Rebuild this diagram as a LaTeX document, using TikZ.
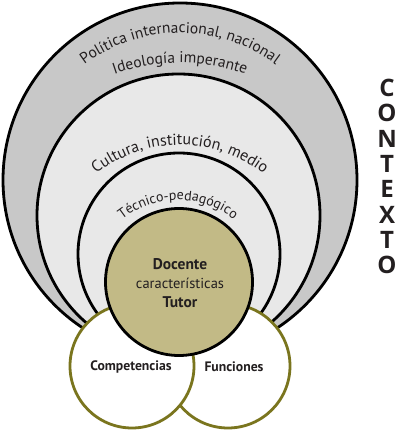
\documentclass[tikz,border=0pt]{standalone}
\usepackage{fontspec}
\setmainfont{PT Sans}
\newfontfamily\ctxfont{Open Sans}
\usetikzlibrary{decorations.text}
\definecolor{outergray}{RGB}{200,200,200}
\definecolor{lightgray}{RGB}{232,232,232}
\definecolor{olivefill}{RGB}{194,186,134}
\definecolor{olivedark}{RGB}{122,117,30}
\definecolor{ink}{RGB}{35,31,32}
\begin{document}
\begin{tikzpicture}[x=1pt,y=1pt,
  ring/.style={circle, draw=black, line width=2.8pt, inner sep=0pt, outer sep=0pt},
  petal/.style={circle, draw=olivedark, fill=white, line width=2.8pt, inner sep=0pt, outer sep=0pt, minimum size=124pt},
  arctext/.style={decorate, decoration={text along path, text align=center, text color=ink, text={#1}}},
  ctx/.style={font=\ctxfont\fontsize{24}{24}\selectfont\bfseries, text=ink, inner sep=0pt}
]
\useasboundingbox (0,0) rectangle (400,430);
\fill[white] (0,0) rectangle (400,430);

% nested context layers
\node[ring, fill=outergray, minimum size=354pt] (outer) at (180,250) {};
\node[ring, fill=lightgray, minimum size=283pt] (middle) at (178.5,214.5) {};
\node[ring, fill=lightgray, minimum size=202pt] (inner) at (179,176) {};

% curved labels
\path[arctext={|\fontsize{15.5}{17}\selectfont|Política internacional, nacional}]
  (180,237) ++(160:160) arc[start angle=160, end angle=20, radius=160];
\path[arctext={|\fontsize{15.5}{17}\selectfont|Ideología imperante}]
  (180,167) ++(130:200) arc[start angle=130, end angle=50, radius=200];
\path[arctext={|\fontsize{16}{18}\selectfont|Cultura, institución, medio}]
  (180,150) ++(160:135) arc[start angle=160, end angle=20, radius=135];
\path[arctext={|\fontsize{14}{16}\selectfont|Técnico-pedagógico}]
  (178,140) ++(160:90) arc[start angle=160, end angle=20, radius=90];

% lower circles
\node[petal] (fun) at (228,64) {};
\node[petal] (comp) at (132,64) {};
\node[circle, draw=black, fill=olivefill, line width=2.8pt, inner sep=0pt, minimum size=147pt] (doc) at (179,148) {};

% texts
\node[text=ink, font=\fontsize{15.5}{17}\selectfont\bfseries] (docente) at (180,166) {Docente};
\node[text=ink, font=\fontsize{14.5}{16}\selectfont] (carac) at (180,147) {características};
\node[text=ink, font=\fontsize{15.5}{17}\selectfont\bfseries] (tutor) at (180,128) {Tutor};
\node[text=ink, font=\fontsize{13.7}{15}\selectfont\bfseries] (comptext) at (131,63) {Competencias};
\node[text=ink, font=\fontsize{13.7}{15}\selectfont\bfseries] (funtext) at (234,63) {Funciones};

% CONTEXTO
\foreach \l [count=\i] in {C,O,N,T,E,X,T,O}
  \node[ctx] (ctx\i) at (387, 430-88-25.3*\i+25.3) {\l};
\end{tikzpicture}
\end{document}
